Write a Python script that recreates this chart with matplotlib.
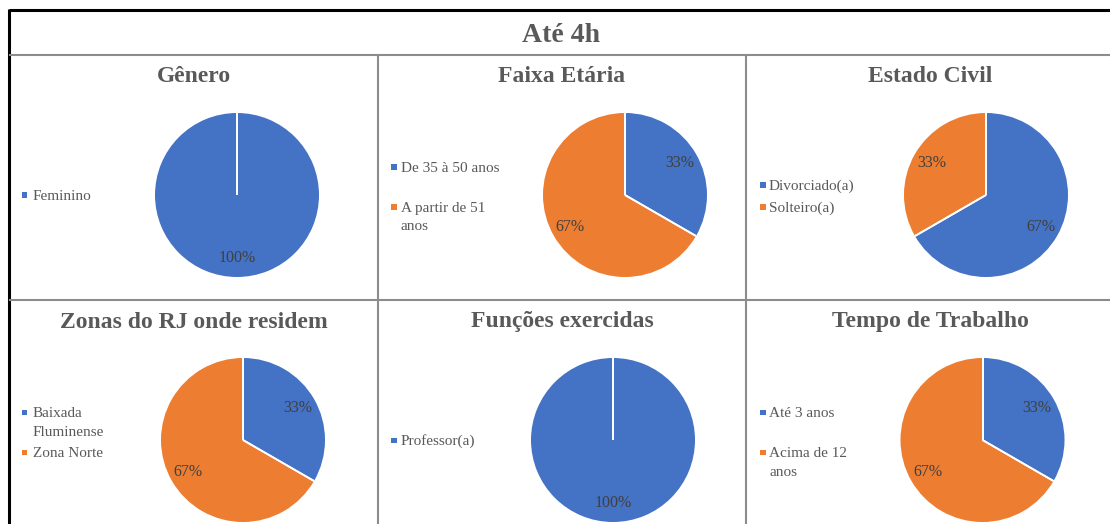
import numpy as np
import matplotlib
matplotlib.use("Agg")
import matplotlib.pyplot as plt
from matplotlib.patches import Rectangle
from matplotlib.lines import Line2D

# ---- data (respondent counts per category) ----
main_title = "Até 4h"

genero_labels = ["Feminino"]
genero_counts = [3]

faixa_labels = ["De 35 à 50 anos", "A partir de 51\nanos"]
faixa_counts = [1, 2]

civil_labels = ["Divorciado(a)", "Solteiro(a)"]
civil_counts = [2, 1]

zonas_labels = ["Baixada\nFluminense", "Zona Norte"]
zonas_counts = [1, 2]

funcoes_labels = ["Professor(a)"]
funcoes_counts = [3]

tempo_labels = ["Até 3 anos", "Acima de 12\nanos"]
tempo_counts = [1, 2]

panel_titles = ["Gênero", "Faixa Etária", "Estado Civil",
                "Zonas do RJ onde residem", "Funções exercidas", "Tempo de Trabalho"]

# ---- styling ----
BLUE = "#4472C4"
ORANGE = "#ED7D31"
TITLE_GRAY = "#595959"
LABEL_DARK = "#404040"
GRID_GRAY = "#8c8c8c"
SERIF = ["Liberation Serif", "DejaVu Serif"]

W, H = 1110, 524
fig = plt.figure(figsize=(W / 100, H / 100), dpi=100)
fig.patch.set_facecolor("white")


def fx(x):
    return x / W


def fy(y):
    return 1 - y / H


# ---- table frame ----
frame = fig.add_axes([0, 0, 1, 1])
frame.set_xlim(0, W)
frame.set_ylim(H, 0)
frame.axis("off")
frame.plot([9, W], [10, 10], color="black", lw=2.2, solid_capstyle="butt")
frame.plot([9, 9], [9, H], color="black", lw=2.2, solid_capstyle="butt")
frame.plot([10, W], [55, 55], color=GRID_GRAY, lw=1.5)
frame.plot([10, W], [300, 300], color=GRID_GRAY, lw=1.5)
frame.plot([378, 378], [55, H], color=GRID_GRAY, lw=1.5)
frame.plot([746, 746], [55, H], color=GRID_GRAY, lw=1.5)

fig.text(fx(561), fy(36), main_title, ha="center", va="center",
         fontsize=20, fontweight="bold", color=TITLE_GRAY, family=SERIF)

# ---- panel layout ----
col_centers = [193.5, 562, 930]
row_title_y = [77, 322]
marker_x = [22, 391, 760]
text_x = [33, 401, 769]
pie_centers = [(237, 195), (625, 195), (986, 195),
               (243, 440), (613, 440), (982.5, 440)]
pie_radius = 82
legend_y = [[195], [167, 207], [185, 207],
            [412, 452], [440], [412, 452]]
line_step = 18.5

panels = [
    (genero_labels, genero_counts),
    (faixa_labels, faixa_counts),
    (civil_labels, civil_counts),
    (zonas_labels, zonas_counts),
    (funcoes_labels, funcoes_counts),
    (tempo_labels, tempo_counts),
]
colors = [BLUE, ORANGE]

for i, ((labels, counts), title) in enumerate(zip(panels, panel_titles)):
    row, col = divmod(i, 3)
    fig.text(fx(col_centers[col]), fy(row_title_y[row]), title,
             ha="center", va="center", fontsize=17, fontweight="bold",
             color=TITLE_GRAY, family=SERIF)

    cx, cy = pie_centers[i]
    r = pie_radius
    ax = fig.add_axes([fx(cx - r), fy(cy + r), 2 * r / W, 2 * r / H])
    wedges, _, autotexts = ax.pie(
        counts, colors=colors[:len(counts)], startangle=90, counterclock=False,
        autopct="%1.0f%%", pctdistance=0.77, radius=1,
        wedgeprops=dict(linewidth=0),
        textprops=dict(fontsize=11.5, color=LABEL_DARK, family=SERIF))
    # white separators along each wedge boundary
    for w in wedges:
        for th in (w.theta1, w.theta2):
            t = np.deg2rad(th)
            ax.add_line(Line2D([0, np.cos(t)], [0, np.sin(t)], color="white",
                               lw=1.3, solid_capstyle="butt"))
    ax.set_xlim(-1.0, 1.0)
    ax.set_ylim(-1.0, 1.0)
    ax.set_aspect("equal")
    ax.axis("off")

    # legend entries: square key + (possibly wrapped) label
    for j, lab in enumerate(labels):
        yc = legend_y[i][j]
        fig.patches.append(Rectangle((fx(marker_x[col]), fy(yc + 3)), 5.5 / W, 5.5 / H,
                                     transform=fig.transFigure, figure=fig,
                                     facecolor=colors[j], edgecolor="none"))
        for k, part in enumerate(lab.split("\n")):
            fig.text(fx(text_x[col]), fy(yc + 5 + k * line_step), part,
                     ha="left", va="baseline", fontsize=11,
                     color=TITLE_GRAY, family=SERIF)

fig.savefig("out.png", dpi=100, facecolor="white")
